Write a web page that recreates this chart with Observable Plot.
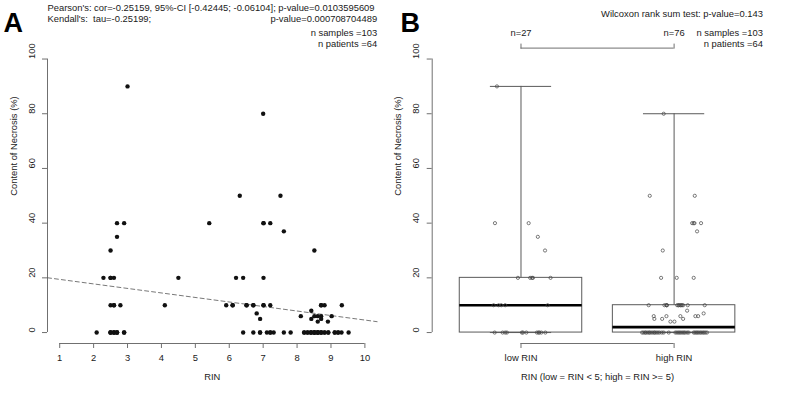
<!DOCTYPE html>
<html><head><meta charset="utf-8">
<script src="https://cdn.jsdelivr.net/npm/d3@7"></script>
<script src="https://cdn.jsdelivr.net/npm/@observablehq/plot@0.6"></script>
<style>
body{margin:0;background:#fff;}
#wrap{position:relative;width:787px;height:402px;display:flex;background:#fff;}
#wrap svg{display:block;overflow:visible;}
</style></head><body><div id="wrap"></div>
<script>
// ---- data ----
// low RIN group (RIN < 5): RIN, necrosis content (%), horizontal jitter used in panel B
const rinLow = [3.0, 2.69, 2.9, 2.69, 2.5, 2.29, 2.5, 2.6, 4.5, 2.5, 2.5, 2.6, 2.79, 4.1, 2.6,
  2.09, 2.5, 2.6, 2.69, 2.9, 2.6, 2.69, 2.5, 2.9, 2.6, 2.69, 2.5];
const necLow = [90, 40, 40, 35, 30, 20, 20, 20, 20, 20, 10, 10, 10, 10, 10,
  0, 0, 0, 0, 0, 0, 0, 0, 0, 0, 0, 0];
const jitLow = [-0.157, -0.17, 0.05, 0.11, 0.157, -0.02, 0.06, 0.072, 0.078, 0.193, -0.179, -0.146, -0.129, -0.103, 0.174,
  -0.172, -0.12, -0.103, -0.092, 0.006, 0.013, 0.035, 0.104, 0.115, 0.12, 0.133, 0.159];

// high RIN group (RIN >= 5)
const rinHigh = [7.0, 6.31, 7.51, 5.41, 7.01, 7.21, 7.01, 7.61, 8.51, 6.2, 6.41, 7.01,
  5.91, 6.10, 6.51, 6.71, 7.01, 7.21, 8.71, 8.81, 9.32, 6.51, 7.01, 6.71, 8.71, 6.10,
  8.42, 6.81, 8.11, 8.51, 8.61, 8.71, 9.02, 6.91, 8.42, 8.71, 8.61, 8.91,
  6.41, 6.71, 6.91, 7.11, 7.21, 7.31, 7.61, 7.81, 8.21, 8.31, 8.41, 8.51, 8.61, 8.71, 8.81, 8.92, 9.11, 9.21, 9.31, 9.52,
  8.41, 8.51, 8.61, 8.71, 8.81, 8.51, 8.61, 8.21, 8.31, 8.92, 9.11, 7.21, 6.91, 8.41, 8.71, 9.21, 8.61, 8.51];
const necHigh = [80, 50, 50, 40, 40, 40, 40, 37, 30, 20, 20, 20,
  10, 10, 10, 10, 10, 10, 10, 10, 10, 10, 10, 10, 10, 10,
  8, 7, 6, 6, 6, 6, 6, 5, 5, 5, 4, 4,
  0, 0, 0, 0, 0, 0, 0, 0, 0, 0, 0, 0, 0, 0, 0, 0, 0, 0, 0, 0,
  0, 0, 0, 0, 0, 0, 0, 0, 0, 0, 0, 0, 0, 0, 0, 0, 0, 0];
const jitHigh = [-0.068, -0.159, 0.135, 0.118, 0.128, 0.133, 0.176, 0.150, -0.074, -0.085, 0.017, 0.128,
  -0.166, -0.063, -0.05, -0.046, 0.02, 0.03, 0.041, 0.052, 0.059, 0.089, 0.2, 0.03, 0.045, -0.05,
  0.085, 0.193, -0.133, -0.05, 0.041, 0.139, 0.157, -0.129, -0.078, 0.059, -0.024, 0.002,
  -0.209, -0.2, -0.19, -0.185, -0.175, -0.165, -0.16, -0.15, -0.14, -0.13, -0.125, -0.115, -0.105, -0.095, -0.08, -0.068,
  -0.035, 0.008, 0.018, 0.028, 0.036, 0.045, 0.055, 0.064, 0.072, 0.085, 0.095,
  0.128, 0.136, 0.145, 0.152, 0.16, 0.17, 0.178, 0.188, 0.196, 0.205, 0.215];

const xTicksA = [1, 2, 3, 4, 5, 6, 7, 8, 9, 10];
const yTicks = [0, 20, 40, 60, 80, 100];
const groupLabels = ["low RIN", "high RIN"];
const nPatients = 64;
const pearsonText = "Pearson's: cor=-0.25159, 95%-CI [-0.42445; -0.06104]; p-value=0.0103595609";
const kendallText = "Kendall's:\u00a0\u00a0tau=-0.25199;";
const kendallP = "p-value=0.000708704489";
const wilcoxText = "Wilcoxon rank sum test: p-value=0.143";

// ---- derived tables ----
const pointsA = [
  ...rinLow.map((r, i) => ({rin: r, nec: necLow[i], g: 1, jit: jitLow[i]})),
  ...rinHigh.map((r, i) => ({rin: r, nec: necHigh[i], g: 2, jit: jitHigh[i]}))
];
const nSamples = pointsA.length;

const pad = 0.04; // R axis expansion
const xDomA = [xTicksA[0] - pad * (xTicksA.at(-1) - xTicksA[0]), xTicksA.at(-1) + pad * (xTicksA.at(-1) - xTicksA[0])];
const yDom = [yTicks[0] - pad * 100, yTicks.at(-1) + pad * 100];
const xDomB = [0.5 - pad * 2, 2.5 + pad * 2];

// least-squares fit
const mx = d3.mean(pointsA, d => d.rin), my = d3.mean(pointsA, d => d.nec);
const slope = d3.sum(pointsA, d => (d.rin - mx) * (d.nec - my)) / d3.sum(pointsA, d => (d.rin - mx) ** 2);
const intercept = my - slope * mx;
const fitLine = xDomA.map(x => ({x, y: intercept + slope * x}));

const stats = [necLow, necHigh].map((arr, i) => {
  const s = arr.slice().sort(d3.ascending);
  return {g: i + 1, n: s.length, min: s[0], max: s.at(-1),
    q1: d3.quantile(s, 0.25), med: d3.quantile(s, 0.5), q3: d3.quantile(s, 0.75)};
});

// ---- styling ----
const font = "'Liberation Sans', Arial, Helvetica, sans-serif";
const ink = "#1a1a1a", axisCol = "#707070", boxCol = "#5a5a5a";
const fs = 9.4;

function yAxisMarks(xEdge) {
  return [
    Plot.ruleX([xEdge], {y1: yTicks[0], y2: yTicks.at(-1), stroke: axisCol}),
    Plot.axisY(yTicks, {anchor: "left", tickSize: 5, tickFormat: () => "", stroke: axisCol, label: null}),
    Plot.text(yTicks, {y: d => d, frameAnchor: "left", dx: -16, rotate: -90, text: d => String(d), fill: ink}),
    Plot.text(["Content of Necrosis (%)"], {frameAnchor: "left", dx: -34, rotate: -90, text: d => d, fill: ink})
  ];
}

const plotA = Plot.plot({
  width: 393, height: 402,
  marginLeft: 47, marginRight: 16.4, marginTop: 47.6, marginBottom: 59,
  x: {domain: xDomA}, y: {domain: yDom},
  style: {fontFamily: font, fontSize: fs + "px", color: ink, background: "white"},
  marks: [
    ...yAxisMarks(xDomA[0]),
    Plot.ruleY([yDom[0]], {x1: xTicksA[0], x2: xTicksA.at(-1), stroke: axisCol}),
    Plot.axisX(xTicksA, {anchor: "bottom", tickSize: 5, tickFormat: () => "", stroke: axisCol, label: null}),
    Plot.text(xTicksA, {x: d => d, frameAnchor: "bottom", dy: 17, text: d => String(d), fill: ink}),
    Plot.text(["RIN"], {frameAnchor: "bottom", dy: 36, text: d => d, fill: ink}),
    Plot.line(fitLine, {x: "x", y: "y", stroke: "#555", strokeDasharray: "4,3", strokeWidth: 0.8}),
    Plot.dot(pointsA, {x: "rin", y: "nec", r: 2.2, fill: "#111", stroke: "none"}),
    Plot.text(["A"], {frameAnchor: "top-left", dx: -44, dy: -35, text: d => d, textAnchor: "start", fontSize: 27, fontWeight: "bold", fill: "#000"}),
    Plot.text([pearsonText], {frameAnchor: "top-left", dy: -43.6, text: d => d, textAnchor: "start", fill: ink}),
    Plot.text([kendallText], {frameAnchor: "top-left", dy: -33.2, text: d => d, textAnchor: "start", fill: ink}),
    Plot.text([kendallP], {frameAnchor: "top-right", dy: -33.2, text: d => d, textAnchor: "end", fill: ink}),
    Plot.text([`n samples =${nSamples}`], {frameAnchor: "top-right", dy: -18.6, text: d => d, textAnchor: "end", fill: ink}),
    Plot.text([`n patients =${nPatients}`], {frameAnchor: "top-right", dy: -8.2, text: d => d, textAnchor: "end", fill: ink})
  ]
});

const plotB = Plot.plot({
  width: 394, height: 402,
  marginLeft: 38.7, marginRight: 24.6, marginTop: 47.6, marginBottom: 59,
  x: {domain: xDomB}, y: {domain: yDom},
  style: {fontFamily: font, fontSize: fs + "px", color: ink, background: "white"},
  marks: [
    ...yAxisMarks(xDomB[0]),
    Plot.ruleY([yDom[0]], {x1: 1, x2: 2, stroke: axisCol}),
    Plot.axisX([1, 2], {anchor: "bottom", tickSize: 5, tickFormat: () => "", stroke: axisCol, label: null}),
    Plot.text(stats, {x: "g", frameAnchor: "bottom", dy: 17, text: d => groupLabels[d.g - 1], fill: ink}),
    Plot.ruleY([yDom[1]], {x1: 1, x2: 2, stroke: axisCol}),
    Plot.axisX([1, 2], {anchor: "top", tickSize: 5, tickFormat: () => "", stroke: axisCol, label: null}),
    Plot.text(stats, {x: "g", frameAnchor: "top", dy: -18.6, text: d => `n=${d.n}`, fill: ink}),
    Plot.text(["RIN (low = RIN < 5; high = RIN >= 5)"], {frameAnchor: "bottom", dy: 36, text: d => d, fill: ink}),
    Plot.rect(stats, {x1: d => d.g - 0.4, x2: d => d.g + 0.4, y1: "q1", y2: "q3", fill: "white", stroke: boxCol}),
    Plot.ruleX(stats, {x: "g", y1: "q3", y2: "max", stroke: boxCol}),
    Plot.ruleX(stats, {x: "g", y1: "min", y2: "q1", stroke: boxCol}),
    Plot.ruleY(stats, {y: "max", x1: d => d.g - 0.2, x2: d => d.g + 0.2, stroke: boxCol}),
    Plot.ruleY(stats, {y: "min", x1: d => d.g - 0.2, x2: d => d.g + 0.2, stroke: boxCol}),
    Plot.ruleY(stats, {y: "med", x1: d => d.g - 0.4, x2: d => d.g + 0.4, stroke: "#000", strokeWidth: 2.6}),
    Plot.dot(pointsA, {x: d => d.g + d.jit, y: "nec", r: 1.6, fill: "none", stroke: "#444", strokeWidth: 0.7}),
    Plot.text(["B"], {frameAnchor: "top-left", dx: -31.7, dy: -35, text: d => d, textAnchor: "start", fontSize: 27, fontWeight: "bold", fill: "#000"}),
    Plot.text([wilcoxText], {frameAnchor: "top-right", dy: -37.6, text: d => d, textAnchor: "end", fill: ink}),
    Plot.text([`n samples =${nSamples}`], {frameAnchor: "top-right", dy: -18.6, text: d => d, textAnchor: "end", fill: ink}),
    Plot.text([`n patients =${nPatients}`], {frameAnchor: "top-right", dy: -8.2, text: d => d, textAnchor: "end", fill: ink})
  ]
});

document.getElementById("wrap").append(plotA, plotB);
</script></body></html>
